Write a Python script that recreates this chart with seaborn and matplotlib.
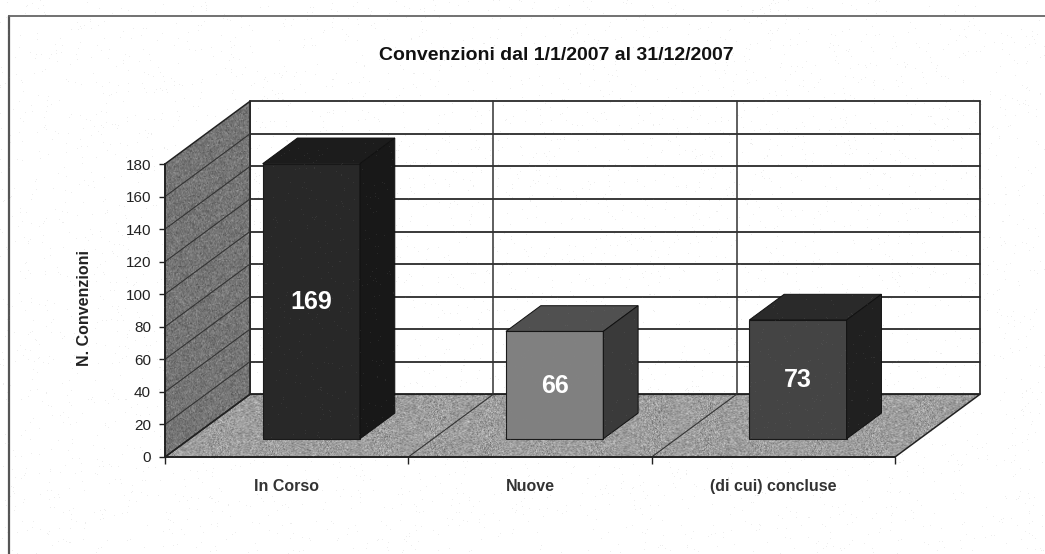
import numpy as np
import pandas as pd
import matplotlib
matplotlib.use('Agg')
import matplotlib.pyplot as plt
import seaborn as sns
from matplotlib.lines import Line2D
from matplotlib.patches import Polygon
from matplotlib.transforms import Affine2D

title = 'Convenzioni dal 1/1/2007 al 31/12/2007'
y_label = 'N. Convenzioni'
categories = ['In Corso', 'Nuove', '(di cui) concluse']
values = [169, 66, 73]
y_ticks = [0, 20, 40, 60, 80, 100, 120, 140, 160, 180]

front_colors = ['#282828', '#808080', '#444444']
top_colors = ['#1c1c1c', '#505050', '#2a2a2a']
side_colors = ['#181818', '#3a3a3a', '#202020']

# depth of the fake 3d box, in data units
depth_x = 0.349
depth_y = 38.5
bar_near = 0.29
bar_far = 0.70
bar_width = 0.4

sns.set_theme(style='white')
plt.rcParams['font.family'] = ['Liberation Sans', 'DejaVu Sans']
rng = np.random.default_rng(3)

fig = plt.figure(figsize=(10.45, 5.54), dpi=100)
ax = fig.add_axes([165 / 1045, 97 / 554, 730 / 1045, 293 / 554])
ax.set_xlim(-0.5, 2.5)
ax.set_ylim(0, 180)


def project(x, y, d):
    return (x + depth_x * d, y + depth_y * d)


def textured_face(points, mean, amp, z):
    # scanned look: gray grain clipped to the face
    grain = np.clip(mean + amp * rng.normal(size=(300, 800)), 0, 1)
    face = Polygon(points, closed=True, transform=ax.transData, fc='none', ec='none')
    ax.add_patch(face)
    xs = [p[0] for p in points]
    ys = [p[1] for p in points]
    img = ax.imshow(grain, cmap='gray', vmin=0, vmax=1, aspect='auto', zorder=z,
                    extent=(min(xs), max(xs), min(ys), max(ys)), interpolation='bilinear')
    img.set_clip_box(fig.bbox)
    img.set_clip_path(face)
    face.set_clip_on(False)
    ax.add_patch(Polygon(points, closed=True, fc='none', ec='#222222', lw=1.1, zorder=z + 0.1,
                         clip_on=False))


# back wall, left wall, floor
x0, x1 = -0.5, 2.5
ymax = y_ticks[-1]
ax.add_line(Line2D([project(x0, 0, 1)[0]] * 2, [project(x0, 0, 1)[1], project(x0, ymax, 1)[1]],
                   color='#222222', lw=1.3, zorder=2, clip_on=False))
ax.add_line(Line2D([project(x1, 0, 1)[0]] * 2, [project(x1, 0, 1)[1], project(x1, ymax, 1)[1]],
                   color='#333333', lw=1.3, zorder=2, clip_on=False))
for t in y_ticks:
    bx, by = project(x0, t, 1)
    ax.add_line(Line2D([bx, project(x1, t, 1)[0]], [by, by], color='#2a2a2a', lw=1.3, zorder=2,
                       clip_on=False))
for b in [0.5, 1.5]:
    bx, by = project(b, 0, 1)
    ax.add_line(Line2D([bx, bx], [by, project(b, ymax, 1)[1]], color='#333333', lw=1.1, zorder=2,
                       clip_on=False))

textured_face([project(x0, 0, 0), project(x0, 0, 1), project(x0, ymax, 1), project(x0, ymax, 0)],
              0.46, 0.17, 3)
textured_face([project(x0, 0, 0), project(x1, 0, 0), project(x1, 0, 1), project(x0, 0, 1)],
              0.62, 0.17, 3)

for t in y_ticks[1:-1]:
    ax.add_line(Line2D([project(x0, t, 0)[0], project(x0, t, 1)[0]],
                       [project(x0, t, 0)[1], project(x0, t, 1)[1]],
                       color='#333333', lw=0.8, zorder=4, clip_on=False))
for b in [0.5, 1.5]:
    ax.add_line(Line2D([project(b, 0, 0)[0], project(b, 0, 1)[0]],
                       [project(b, 0, 0)[1], project(b, 0, 1)[1]],
                       color='#333333', lw=0.8, zorder=4, clip_on=False))

# bars, front faces come from seaborn
df = pd.DataFrame({'categoria': categories, 'valore': values})
sns.barplot(data=df, x='categoria', y='valore', hue='categoria', palette=front_colors,
            width=bar_width, legend=False, saturation=1, ax=ax, zorder=6)
ax.set_xlim(-0.5, 2.5)
ax.set_ylim(0, 180)

shift_x, shift_y = project(0, 0, bar_near)
front_shift = Affine2D().translate(shift_x, shift_y) + ax.transData
bars = [p for p in ax.patches if p.get_zorder() == 6]
for i, bar in enumerate(bars):
    left = bar.get_x()
    right = left + bar.get_width()
    val = bar.get_height()
    bar.set_transform(front_shift)
    bar.set_clip_on(False)
    bar.set_edgecolor('#1a1a1a')
    bar.set_linewidth(0.8)
    span = bar_far - bar_near
    top = [(left, val), (right, val),
           (right + depth_x * span, val + depth_y * span),
           (left + depth_x * span, val + depth_y * span)]
    side = [(right, 0), (right + depth_x * span, depth_y * span),
            (right + depth_x * span, val + depth_y * span), (right, val)]
    ax.add_patch(Polygon(top, closed=True, fc=top_colors[i], ec='#111111', lw=0.7,
                         transform=front_shift, clip_on=False, zorder=7))
    ax.add_patch(Polygon(side, closed=True, fc=side_colors[i], ec='#111111', lw=0.7,
                         transform=front_shift, clip_on=False, zorder=7))
    ax.text(left + bar.get_width() / 2, val / 2 - 0.5, str(values[i]), transform=front_shift,
            color='white', fontsize=18, fontweight='bold', ha='center', va='center', zorder=8)

# axes
sns.despine(ax=ax)
for s in ['left', 'bottom']:
    ax.spines[s].set_color('#222222')
    ax.spines[s].set_linewidth(1.3)
    ax.spines[s].set_zorder(9)
ax.set_yticks(y_ticks)
ax.tick_params(axis='y', length=4, width=1, color='#222222', labelsize=11, pad=6,
               labelcolor='#222222', left=True)
ax.set_xticks([0, 1, 2])
ax.set_xticklabels(categories, fontweight='bold', fontsize=11.5, color='#333333')
ax.tick_params(axis='x', length=0, pad=16)
ax.set_xticks([-0.5, 0.5, 1.5, 2.5], minor=True)
ax.tick_params(axis='x', which='minor', length=5, width=1, color='#222222', bottom=True)
ax.set_xlabel('')
ax.set_ylabel(y_label, fontweight='bold', fontsize=11.5, color='#222222', labelpad=13)
ax.yaxis.set_label_coords(-0.100, 0.51)
ax.set_zorder(1)

fig.text(556 / 1045, 1 - 56 / 554, title, fontsize=14, fontweight='bold', color='#111111',
         ha='center', va='center')

# outer frame, open on the bottom and right side like the scan
fig.add_artist(Line2D([9 / 1045, 9 / 1045], [0, 1 - 16 / 554], color='#555555', lw=1.6))
fig.add_artist(Line2D([9 / 1045, 1], [1 - 16 / 554, 1 - 16 / 554], color='#666666', lw=1.3))

# faint scanner dust over the whole page
dust = np.zeros((554, 1045, 4))
dust[..., :3] = 0.55
dust[..., 3] = (rng.random((554, 1045)) < 0.008) * 0.15
fig.figimage(dust, zorder=20)

fig.savefig('out.png', dpi=100)
